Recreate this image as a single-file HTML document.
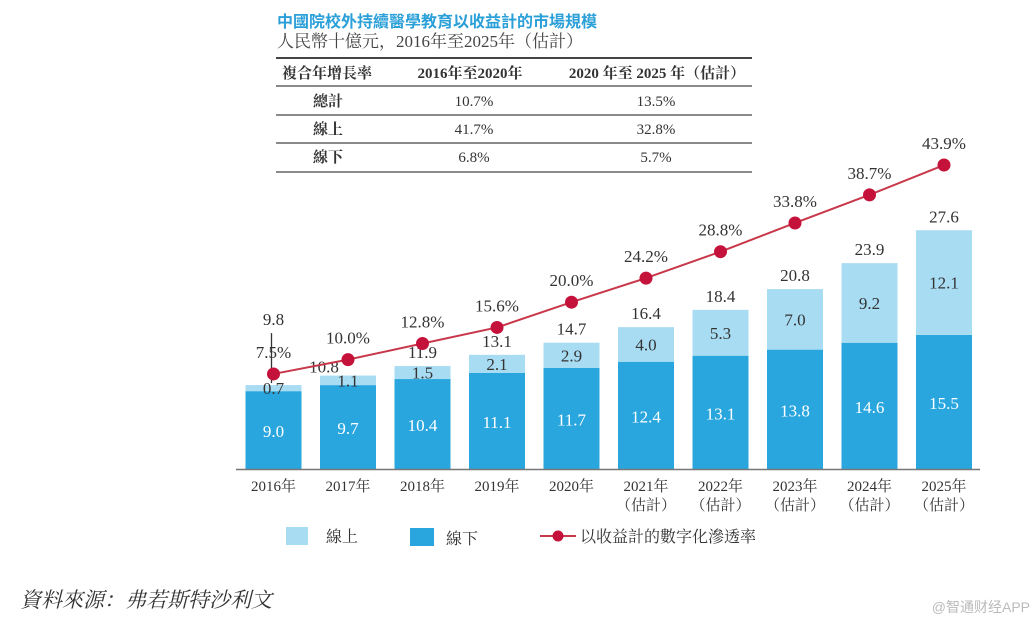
<!DOCTYPE html>
<html><head><meta charset="utf-8"><style>
html,body{margin:0;padding:0;background:#fff;}
body{width:1036px;height:628px;overflow:hidden;position:relative;font-family:"Liberation Serif","Noto Serif CJK SC",serif;}
</style></head><body>
<svg width="1036" height="628" viewBox="0 0 1036 628" xmlns="http://www.w3.org/2000/svg" id="svg">
<text x="277" y="27" font-size="16" font-weight="bold" fill="#2a9fd8" font-family="Liberation Sans,Noto Sans CJK TC,sans-serif">中國院校外持續醫學教育以收益計的市場規模</text>
<text x="277" y="47" font-size="17" fill="#444" font-family="Liberation Serif,Noto Serif CJK SC,serif">人民幣十億元，2016年至2025年（估計）</text>
<g font-size="15" fill="#333" font-family="Liberation Serif,Noto Serif CJK SC,serif">
<line x1="276" y1="58" x2="752" y2="58" stroke="#444" stroke-width="2"/>
<line x1="276" y1="86" x2="752" y2="86" stroke="#444" stroke-width="1.3"/>
<line x1="276" y1="115" x2="752" y2="115" stroke="#444" stroke-width="1.3"/>
<line x1="276" y1="143" x2="752" y2="143" stroke="#444" stroke-width="1.3"/>
<line x1="276" y1="172" x2="752" y2="172" stroke="#444" stroke-width="1.3"/>
<text x="282" y="78" font-weight="bold">複合年增長率</text>
<text x="470" y="78" font-weight="bold" text-anchor="middle">2016年至2020年</text>
<text x="657" y="78" font-weight="bold" text-anchor="middle">2020 年至 2025 年（估計）</text>
<text x="313" y="106" font-weight="bold">總計</text>
<text x="474" y="106" text-anchor="middle">10.7%</text>
<text x="656" y="106" text-anchor="middle">13.5%</text>
<text x="313" y="134" font-weight="bold">線上</text>
<text x="474" y="134" text-anchor="middle">41.7%</text>
<text x="656" y="134" text-anchor="middle">32.8%</text>
<text x="313" y="162" font-weight="bold">線下</text>
<text x="474" y="162" text-anchor="middle">6.8%</text>
<text x="656" y="162" text-anchor="middle">5.7%</text>
</g>
<g id="plot"></g>
<line x1="236" y1="469.5" x2="980" y2="469.5" stroke="#777" stroke-width="1.5"/>
<g font-size="16" fill="#333">
<rect x="286" y="527" width="22" height="18" fill="#a8dcf3"/>
<text x="326" y="542">線上</text>
<rect x="410" y="528" width="24" height="18" fill="#29a6de"/>
<text x="446" y="544">線下</text>
<line x1="540" y1="536" x2="576" y2="536" stroke="#c8384a" stroke-width="2"/>
<circle cx="558" cy="536" r="5.5" fill="#c4123a"/>
<text x="580" y="542">以收益計的數字化滲透率</text>
</g>
<text x="20" y="607" font-size="21" font-style="italic" fill="#333">資料來源：弗若斯特沙利文</text>
<text x="1030" y="612" font-size="14" fill="#bbb" text-anchor="end" font-family="Liberation Sans,Noto Sans CJK SC,sans-serif">@智通财经APP</text>
</svg>
<script>
const years = ["2016年","2017年","2018年","2019年","2020年","2021年","2022年","2023年","2024年","2025年"];
const estimated = [false,false,false,false,false,true,true,true,true,true];
const offline = [9.0,9.7,10.4,11.1,11.7,12.4,13.1,13.8,14.6,15.5];
const online = [0.7,1.1,1.5,2.1,2.9,4.0,5.3,7.0,9.2,12.1];
const totals = ["9.8","10.8","11.9","13.1","14.7","16.4","18.4","20.8","23.9","27.6"];
const rates = [7.5,10.0,12.8,15.6,20.0,24.2,28.8,33.8,38.7,43.9];

const NS = "http://www.w3.org/2000/svg";
const g = document.getElementById('plot');
const x0 = 273.5, step = 74.5, bw = 56, base = 469;
const xs = i => x0 + i*step;
const yv = v => base - v*8.65;
const yr = r => 417 - r*5.74;
function mk(tag, attrs){const e=document.createElementNS(NS,tag);for(const k in attrs)e.setAttribute(k,attrs[k]);g.appendChild(e);return e;}
function txt(x,y,s,attrs){const e=mk('text',Object.assign({x:x,y:y,'text-anchor':'middle'},attrs));e.textContent=s;return e;}

years.forEach((yr_,i)=>{
  const cx=xs(i);
  const yOff=yv(offline[i]), yTop=yv(offline[i]+online[i]);
  const b1=mk('rect',{x:cx-bw/2,y:yOff,width:bw,height:base-yOff,fill:'#29a6de'});
  
  
  const b2=mk('rect',{x:cx-bw/2,y:yTop,width:bw,height:yOff-yTop,fill:'#a8dcf3'});
  
  
  const t1=txt(cx,(yOff+base)/2+7,offline[i].toFixed(1),{'font-size':17,fill:'#fff'});
  
  
  const t2=txt(cx,(yTop+yOff)/2+6,online[i].toFixed(1),{'font-size':17,fill:'#333'});
  
  
  let tx=cx, ty=yTop-8;
  if(i===0){ty=yTop-60;
    const ld=mk('line',{x1:cx-2,y1:ty+8,x2:cx-2,y2:yTop-2,stroke:'#333','stroke-width':1.3});
    
    }
  if(i===1){tx=cx-24;ty=yTop-3;}
  const t3=txt(tx,ty,totals[i],{'font-size':17,fill:'#333'});
  
  
  const t4=txt(cx,491,yr_,{'font-size':15,fill:'#333'});
  
  
  if(estimated[i]){
    const t5=txt(cx,510,'（估計）',{'font-size':15,fill:'#333'});
    
    
  }
});
const pts=rates.map((r,i)=>xs(i)+','+yr(r)).join(' ');
const pl=mk('polyline',{points:pts,fill:'none',stroke:'#c8384a','stroke-width':2});


rates.forEach((r,i)=>{
  const c=mk('circle',{cx:xs(i),cy:yr(r),r:6.5,fill:'#c4123a'});
  
  
  const t=txt(xs(i),yr(r)-16,r.toFixed(1)+'%',{'font-size':17,fill:'#333'});
  
  
});
</script>
</body></html>
